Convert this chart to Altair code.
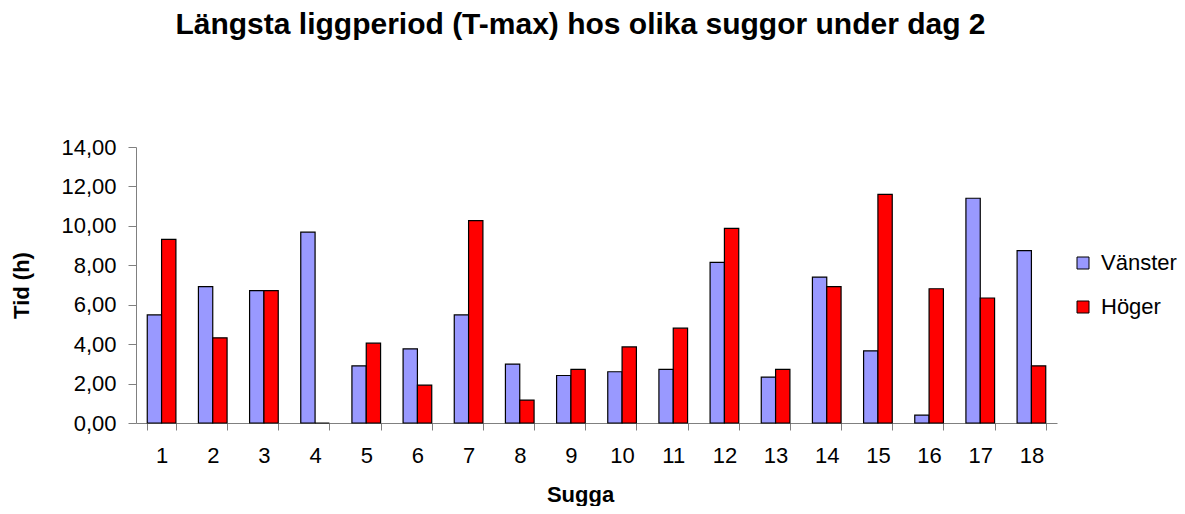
import altair as alt
import pandas as pd

suggor = [str(i) for i in range(1, 19)]
vanster = [5.48, 6.92, 6.71, 9.68, 2.90, 3.76, 5.48, 2.99, 2.41, 2.60, 2.72, 8.15, 2.33, 7.40, 3.66, 0.40, 11.40, 8.74]
hoger = [9.31, 4.32, 6.71, 0.0, 4.05, 1.92, 10.27, 1.16, 2.72, 3.86, 4.81, 9.87, 2.72, 6.92, 11.60, 6.81, 6.34, 2.90]
series = ["Vänster", "Höger"]
colors = ["#9999FF", "#FF0000"]

rows = []
for s, v, h in zip(suggor, vanster, hoger):
    rows.append({"Sugga": s, "Serie": "Vänster", "Tid": v})
    rows.append({"Sugga": s, "Serie": "Höger", "Tid": h})
df = pd.DataFrame(rows)

FONT = "Liberation Sans"

chart = alt.Chart(df).mark_bar(stroke="black", strokeWidth=1.2).encode(
    x=alt.X("Sugga:N", sort=suggor,
            scale=alt.Scale(paddingInner=0.44, paddingOuter=0.22),
            axis=alt.Axis(title="Sugga", labelAngle=0, tickBand="extent",
                          tickSize=7, labelPadding=15, labelFontSize=22,
                          labelFont=FONT, labelColor="black",
                          domainColor="#808080", tickColor="#808080",
                          titleFont=FONT, titleFontSize=22, titleFontWeight="bold",
                          titleY=78, titleX=444, titleBaseline="alphabetic", titleColor="black")),
    xOffset=alt.XOffset("Serie:N", sort=series, scale=alt.Scale(paddingInner=0, paddingOuter=0)),
    y=alt.Y("Tid:Q", scale=alt.Scale(domain=[0, 14]),
            axis=alt.Axis(title="Tid (h)", values=list(range(0, 15, 2)), grid=False,
                          labelExpr="replace(format(datum.value, '.2f'), '.', ',')",
                          tickSize=8, labelPadding=12, labelFontSize=22, labelFont=FONT,
                          labelColor="black", domainColor="#808080", tickColor="#808080",
                          titleFont=FONT, titleFontSize=22, titleFontWeight="bold",
                          titleX=-115, titleY=138, titleBaseline="middle", titleColor="black")),
    color=alt.Color("Serie:N", sort=series,
                    scale=alt.Scale(domain=series, range=colors),
                    legend=alt.Legend(title=None, orient="none", legendX=936, legendY=105,
                                      symbolType="square", symbolSize=144,
                                      symbolStrokeColor="black", symbolStrokeWidth=1,
                                      labelFont=FONT, labelFontSize=22, labelColor="black",
                                      rowPadding=22, labelOffset=7)),
).properties(
    width=921, height=276,
    title=alt.TitleParams("Längsta liggperiod (T-max) hos olika suggor under dag 2",
                          font=FONT, fontSize=30, fontWeight="bold", color="black",
                          anchor="middle", offset=96, dx=-16),
    autosize=alt.AutoSizeParams(type="none"),
    padding={"left": 128, "top": 139, "right": 120, "bottom": 83},
).configure_view(stroke=None)

chart.save("out.html", embed_options={"renderer": "svg", "actions": False})
